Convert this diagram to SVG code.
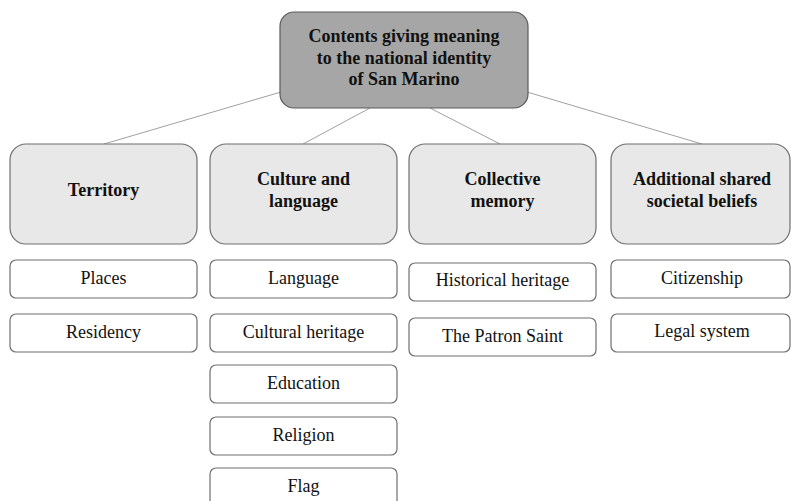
<svg xmlns="http://www.w3.org/2000/svg" width="791" height="501" viewBox="0 0 791 501">
<style>
.root{fill:#a6a6a6;stroke:#5a5a5a;stroke-width:1.2}
.mid{fill:#e8e8e8;stroke:#6f6f6f;stroke-width:1.2}
.leaf{fill:#ffffff;stroke:#6f6f6f;stroke-width:1.2}
.conn line{stroke:#a0a0a0;stroke-width:1}
text{font-family:'Liberation Serif','Times New Roman','DejaVu Serif',serif;fill:#111;text-anchor:middle}
.b{font-weight:bold;font-size:18px}
.r{font-size:18px}
</style>
<rect width="791" height="501" fill="#ffffff"/>
<g class="conn" id="connectors">
<line x1="281" y1="92" x2="104" y2="144"/>
<line x1="370" y1="108" x2="303" y2="144"/>
<line x1="430" y1="108" x2="500" y2="144"/>
<line x1="527" y1="92" x2="702" y2="144"/>
</g>
<g id="root" font-family="Liberation Serif, serif">
<rect class="root" x="280" y="12" width="248" height="96" rx="14"/>
<text class="b" x="404" y="42">Contents giving meaning</text>
<text class="b" x="404" y="63.5">to the national identity</text>
<text class="b" x="404" y="85">of San Marino</text>
</g>
<g id="territory">
<rect class="mid" x="10" y="144" width="187" height="100" rx="16"/>
<text class="b" x="103.5" y="196">Territory</text>
</g>
<g id="culture">
<rect class="mid" x="210" y="144" width="187" height="100" rx="16"/>
<text class="b" x="303.5" y="185">Culture and</text>
<text class="b" x="303.5" y="207">language</text>
</g>
<g id="memory">
<rect class="mid" x="409" y="144" width="187" height="100" rx="16"/>
<text class="b" x="502.5" y="185">Collective</text>
<text class="b" x="502.5" y="207">memory</text>
</g>
<g id="beliefs">
<rect class="mid" x="611" y="144" width="179" height="100" rx="16"/>
<text class="b" x="702" y="185">Additional shared</text>
<text class="b" x="702" y="207">societal beliefs</text>
</g>
<g id="places">
<rect class="leaf" x="10" y="260" width="187" height="38" rx="6"/>
<text class="r" x="103.5" y="284">Places</text>
</g>
<g id="residency">
<rect class="leaf" x="10" y="314" width="187" height="38" rx="6"/>
<text class="r" x="103.5" y="338">Residency</text>
</g>
<g id="language">
<rect class="leaf" x="210" y="260" width="187" height="38" rx="6"/>
<text class="r" x="303.5" y="284">Language</text>
</g>
<g id="cultural-heritage">
<rect class="leaf" x="210" y="314" width="187" height="38" rx="6"/>
<text class="r" x="303.5" y="338">Cultural heritage</text>
</g>
<g id="education">
<rect class="leaf" x="210" y="365" width="187" height="38" rx="6"/>
<text class="r" x="303.5" y="389">Education</text>
</g>
<g id="religion">
<rect class="leaf" x="210" y="417" width="187" height="38" rx="6"/>
<text class="r" x="303.5" y="441">Religion</text>
</g>
<g id="flag">
<rect class="leaf" x="210" y="468" width="187" height="40" rx="6"/>
<text class="r" x="303.5" y="492">Flag</text>
</g>
<g id="historical-heritage">
<rect class="leaf" x="409" y="263" width="187" height="38" rx="6"/>
<text class="r" x="502.5" y="286">Historical heritage</text>
</g>
<g id="patron-saint">
<rect class="leaf" x="409" y="318" width="187" height="38" rx="6"/>
<text class="r" x="502.5" y="342">The Patron Saint</text>
</g>
<g id="citizenship">
<rect class="leaf" x="611" y="260" width="179" height="38" rx="6"/>
<text class="r" x="702" y="284">Citizenship</text>
</g>
<g id="legal-system">
<rect class="leaf" x="611" y="314" width="179" height="38" rx="6"/>
<text class="r" x="702" y="337">Legal system</text>
</g>
</svg>
